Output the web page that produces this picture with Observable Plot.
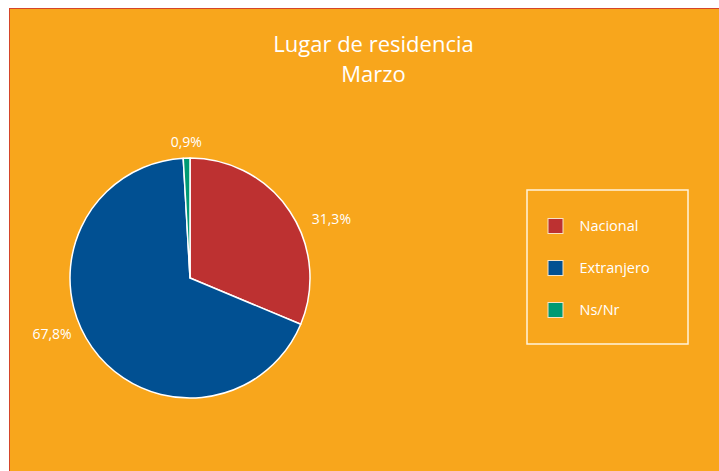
<!DOCTYPE html>
<html>
<head>
<meta charset="utf-8">
<script src="https://cdn.jsdelivr.net/npm/d3@7"></script>
<script src="https://cdn.jsdelivr.net/npm/@observablehq/plot@0.6"></script>
<style>
  html, body { margin: 0; padding: 0; background: #ffffff; overflow: hidden; }
  #chart { position: absolute; left: 9px; top: 8px; border-left: 1px solid #D4452A; border-top: 1px solid #D4452A; }
  #chart svg { display: block; background: #F8A61C; }
</style>
</head>
<body>
<div id="chart"></div>
<script>
// ---- data ----
const categories = ["Nacional", "Extranjero", "Ns/Nr"];
const values = [31.3, 67.8, 0.9];
const valueLabels = ["31,3%", "67,8%", "0,9%"];
const colors = ["#BD3131", "#015092", "#009A73"];
const titleLines = ["Lugar de residencia", "Marzo"];

// ---- layout (pixels inside the orange panel) ----
const W = 709, H = 462;
const center = [180, 269], radius = 120;
const labelRadius = 150;
const labelNudge = [[16, 24], [-16, -31], [0, 14]];
const legendBox = {x1: 517, y1: 181, x2: 678, y2: 335};
const legendRow0 = 217, legendStep = 42, swatchX = 538, swatchSize = 15, legendTextX = 569;
const font = "'Open Sans', Lato, sans-serif";

const pie = d3.pie().sort(null).value(d => d.value)(
  categories.map((c, i) => ({category: c, value: values[i], label: valueLabels[i]}))
);

const labelData = pie.map((a, i) => {
  const m = (a.startAngle + a.endAngle) / 2;
  return {
    label: a.data.label,
    x: center[0] + labelRadius * Math.sin(m) + labelNudge[i][0],
    y: center[1] - labelRadius * Math.cos(m) + labelNudge[i][1]
  };
});

const legendData = categories.map((c, i) => ({category: c, y: legendRow0 + i * legendStep}));

function pieMark(...args) {
  const scales = args.find(a => a && typeof a.x === "function" && typeof a.y === "function");
  const arc = d3.arc().innerRadius(0).outerRadius(radius);
  const g = d3.create("svg:g")
    .attr("transform", `translate(${scales.x(center[0])},${scales.y(center[1])})`);
  g.selectAll("path").data(pie).join("path")
    .attr("d", arc)
    .attr("fill", d => scales.color(d.data.category))
    .attr("stroke", "#ffffff")
    .attr("stroke-width", 1.5)
    .attr("stroke-linejoin", "round");
  return g.node();
}

const chart = Plot.plot({
  width: W,
  height: H,
  margin: 0,
  style: {background: "#F8A61C", fontFamily: font, overflow: "hidden"},
  x: {domain: [0, W], range: [0, W], axis: null},
  y: {domain: [0, H], range: [0, H], axis: null},
  color: {domain: categories, range: colors},
  marks: [
    pieMark,
    Plot.text(titleLines, {
      x: () => 363, y: (d, i) => 35 + i * 30, text: d => d,
      fill: "#ffffff", fontSize: 22, fontWeight: 400, fontFamily: font
    }),
    Plot.text(labelData, {
      x: "x", y: "y", text: "label",
      fill: "#ffffff", fontSize: 14, fontFamily: font
    }),
    Plot.rect([legendBox], {
      x1: "x1", x2: "x2", y1: "y1", y2: "y2",
      fill: "none", stroke: "#FFF3DC", strokeWidth: 1.5
    }),
    Plot.rect(legendData, {
      x1: () => swatchX, x2: () => swatchX + swatchSize,
      y1: d => d.y - swatchSize / 2, y2: d => d.y + swatchSize / 2,
      fill: "category", stroke: "#F6E2C4", strokeWidth: 1
    }),
    Plot.text(legendData, {
      x: () => legendTextX, y: "y", text: "category",
      textAnchor: "start", fill: "#ffffff", fontSize: 14.5, fontFamily: font
    })
  ]
});

document.getElementById("chart").appendChild(chart);
</script>
</body>
</html>
